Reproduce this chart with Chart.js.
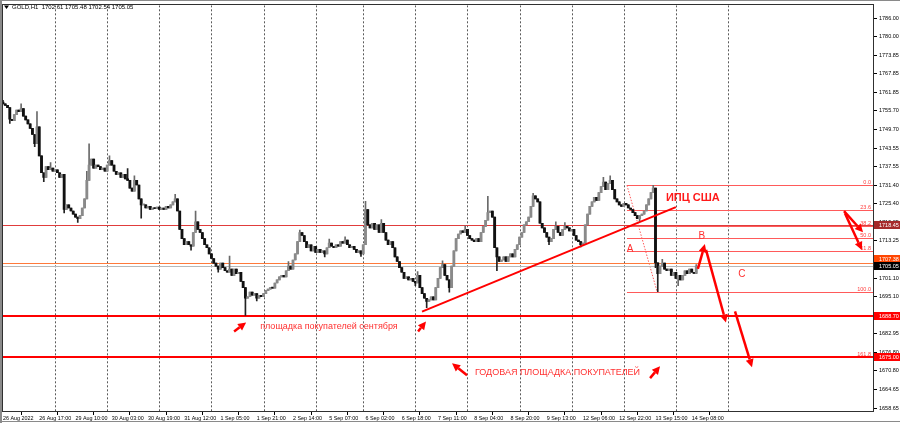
<!DOCTYPE html>
<html>
<head>
<meta charset="utf-8">
<script src="https://cdn.jsdelivr.net/npm/chart.js@4.4.0/dist/chart.umd.min.js"></script>
<style>
html, body { margin: 0; padding: 0; background: #fff; }
#wrap { width: 900px; height: 423px; position: relative; }
</style>
</head>
<body>
<div id="wrap"><canvas id="chart" width="900" height="423"></canvas></div>
<script>
// GOLD H1, 26 Aug 2022 01:00 .. 14 Sep 2022, closes
const closes = [
    1758.0, 1757.5, 1756.8, 1753.0, 1752.5, 1754.5, 1756.0, 1755.5, 1756.5, 1754.0,
    1752.8, 1751.5, 1750.0, 1748.0, 1745.0, 1750.5, 1741.0, 1735.5, 1734.0, 1737.5,
    1736.5, 1737.0, 1736.0, 1736.5, 1735.5, 1734.0, 1735.0, 1723.5, 1725.0, 1724.0,
    1723.0, 1722.0, 1721.0, 1720.5, 1721.5, 1724.0, 1727.0, 1733.0, 1738.0, 1740.0,
    1737.0, 1738.0, 1737.5, 1736.5, 1737.0, 1736.0, 1738.0, 1739.5, 1738.0, 1736.0,
    1735.0, 1735.5, 1734.0, 1735.0, 1733.5, 1733.0, 1730.5, 1729.5, 1733.0, 1731.5,
    1727.0, 1725.0, 1725.0, 1724.0, 1724.5, 1723.5, 1724.0, 1723.8, 1724.3, 1723.5,
    1724.0, 1723.5, 1724.5, 1724.0, 1725.0, 1726.0, 1727.0, 1723.0, 1717.0, 1714.0,
    1712.0, 1713.0, 1712.0, 1711.5, 1716.0, 1719.5, 1717.0, 1716.0, 1714.0, 1712.0,
    1711.0, 1709.0, 1707.5, 1706.0, 1705.0, 1704.0, 1706.0, 1704.5, 1703.5, 1703.0,
    1704.0, 1702.0, 1704.0, 1702.5, 1703.0, 1700.0, 1698.0, 1694.5, 1695.0, 1696.5,
    1695.5, 1696.0, 1694.5, 1695.5, 1695.0, 1696.0, 1697.0, 1697.5, 1698.0, 1697.8,
    1699.5, 1700.5, 1701.5, 1702.0, 1701.5, 1703.5, 1705.0, 1704.0, 1707.0, 1709.0,
    1713.0, 1716.0, 1715.0, 1713.0, 1711.0, 1712.0, 1710.0, 1711.5, 1709.5, 1710.5,
    1709.5, 1710.0, 1709.0, 1711.0, 1712.5, 1711.5, 1711.0, 1712.0, 1711.5, 1713.0,
    1712.5, 1713.5, 1712.0, 1711.0, 1711.5, 1710.5, 1709.5, 1710.0, 1709.0, 1712.0,
    1723.5, 1718.5, 1717.5, 1719.0, 1717.0, 1718.5, 1716.0, 1719.0, 1716.0, 1713.5,
    1712.0, 1713.0, 1711.0, 1708.0, 1706.5, 1704.5, 1703.0, 1701.0, 1701.5, 1700.5,
    1701.0, 1700.0, 1699.5, 1702.0, 1698.0, 1696.0, 1694.5, 1693.5, 1694.0, 1695.0,
    1694.0, 1698.0, 1701.0, 1704.5, 1705.5, 1702.0, 1700.5, 1698.0, 1705.0, 1710.0,
    1714.0, 1715.5, 1716.5, 1716.0, 1717.0, 1715.0, 1714.0, 1713.5, 1713.0, 1714.0,
    1713.0, 1716.0, 1718.0, 1720.0, 1722.5, 1723.0, 1721.0, 1711.0, 1708.0, 1706.5,
    1707.0, 1708.0, 1706.5, 1708.0, 1709.0, 1708.0, 1710.5, 1712.0, 1714.5, 1716.0,
    1718.5, 1719.5, 1721.0, 1724.5, 1728.0, 1727.0, 1726.0, 1719.0, 1717.5, 1716.0,
    1714.5, 1713.0, 1714.0, 1717.0, 1718.0, 1716.0, 1715.0, 1717.0, 1718.0, 1717.5,
    1716.5, 1717.0, 1715.0, 1713.5, 1713.0, 1712.0, 1712.5, 1718.5, 1722.0, 1724.5,
    1726.0, 1727.5, 1726.5, 1729.0, 1731.0, 1732.5, 1730.0, 1732.0, 1733.0, 1730.0,
    1727.0, 1726.0, 1725.0, 1724.5, 1725.5, 1725.0, 1724.0, 1723.5, 1722.5, 1721.5,
    1720.5, 1721.5, 1722.0, 1723.0, 1725.0, 1727.0, 1729.0, 1730.5, 1706.1, 1702.5,
    1705.0, 1706.0, 1704.0, 1703.5, 1704.0, 1702.0, 1703.0, 1701.0, 1702.0, 1700.5,
    1702.0, 1703.5, 1702.5, 1704.0, 1703.0, 1702.6, 1705.05
];
const firstOpen = 1758.6;

// wicks that stand out in the picture (bar index -> price)
const highMarks = {
    0: 1759.2, 8: 1758.0, 15: 1755.5, 21: 1738.8, 37: 1736.0, 38: 1745.0, 47: 1741.0,
    55: 1736.9, 58: 1734.5, 76: 1728.5, 85: 1723.0, 100: 1708.3, 126: 1706.5,
    131: 1716.8, 144: 1713.8, 151: 1714.6, 160: 1726.2, 167: 1720.2, 183: 1703.2,
    194: 1706.7, 204: 1718.2, 214: 1727.8, 234: 1728.8, 244: 1719.5, 248: 1719.2,
    265: 1734.0, 268: 1734.5, 287: 1731.42, 291: 1707.2, 306: 1705.48
};
const lowMarks = {
    3: 1751.6, 14: 1744.0, 18: 1732.6, 27: 1722.4, 33: 1719.3, 61: 1720.7,
    83: 1710.2, 95: 1703.0, 107: 1688.9, 112: 1693.6, 142: 1708.0, 158: 1708.2,
    182: 1698.6, 187: 1691.4, 197: 1696.5, 218: 1703.5, 241: 1712.0, 255: 1711.3,
    281: 1719.7, 288: 1704.5, 289: 1696.66, 298: 1698.6, 306: 1702.54
};

const tickStep = 16;
const tickLabels = [
    '26 Aug 2022', '26 Aug 17:00', '29 Aug 10:00', '30 Aug 03:00', '30 Aug 19:00',
    '31 Aug 12:00', '1 Sep 05:00', '1 Sep 21:00', '2 Sep 14:00', '5 Sep 07:00',
    '6 Sep 02:00', '6 Sep 18:00', '7 Sep 11:00', '8 Sep 04:00', '8 Sep 20:00',
    '9 Sep 13:00', '12 Sep 06:00', '12 Sep 22:00', '13 Sep 15:00', '14 Sep 08:00'
];
const dayStarts = [23, 46, 69, 92, 115, 138, 159, 182, 205, 228, 251, 274, 297, 320];
const slotCount = 385;

const priceTicks = [
    1786.00, 1780.00, 1773.85, 1767.85, 1761.85, 1755.70, 1749.70, 1743.55, 1737.55,
    1731.40, 1725.40, 1719.25, 1713.25, 1707.10, 1701.10, 1695.10, 1688.95, 1682.95,
    1676.80, 1670.80, 1664.65, 1658.65
];
const priceMin = 1657.67;
const priceMax = 1790.22;

const fibHigh = 1731.42;
const fibLow = 1696.66;
const fibLevels = [0, 23.6, 38.2, 50, 61.8, 100, 161.8];
const fibStart = 275.4;
const fibEnd = 288.7;

const levelPrices = [1718.45, 1706.0, 1705.05, 1688.70, 1675.17];
const levelColors = ['#e03c3c', '#ff7a3c', '#b8b8b8', '#ff0000', '#ff0000'];
const levelWidths = [1, 1, 1, 2, 2];
const badgeColors = ['#a52a2a', '#ff4500', '#000000', '#ff0000', '#ff0000'];
const badgeTexts = ['1718.45', '1707.38', '1705.05', '1688.70', '1675.00'];
const badgePrices = [1718.45, 1707.2, 1705.05, 1688.70, 1675.17];

const trendLine = [[184.95, 1690.16], [297.0, 1724.27]];
const arrows = [
    [[102.0, 1683.66], [107.3, 1686.58]],
    [[183.2, 1683.66], [186.7, 1686.9]],
    [[204.8, 1669.36], [198.2, 1673.26]],
    [[285.6, 1668.4], [290.0, 1672.3]],
    [[306.7, 1704.1], [309.8, 1712.2]],
    [[310.3, 1710.3], [319.1, 1686.6]],
    [[323.1, 1690.2], [330.6, 1672.0]],
    [[371.2, 1722.97], [379.6, 1716.1]],
    [[371.6, 1722.3], [379.1, 1710.3]]
];
const notes = [
    { text: 'ИПЦ США', at: [292.6, 1727.19], size: 11, bold: true },
    { text: 'A', at: [275.3, 1710.6], size: 10 },
    { text: 'B', at: [307.0, 1714.85], size: 10 },
    { text: 'C', at: [324.5, 1702.2], size: 10 },
    { text: 'площадка покупателей сентября', at: [113.5, 1685.28], size: 9 },
    { text: 'ГОДОВАЯ ПЛОЩАДКА ПОКУПАТЕЛЕЙ', at: [208.3, 1670.34], size: 9 }
];

const FONT = "'Liberation Sans', Arial, sans-serif";
const BULL = '#8a8a8a';
const BEAR = '#111111';

const opens = closes.map((c, i) => (i === 0 ? firstOpen : closes[i - 1]));
const bodies = closes.map((c, i) => [opens[i], c]);
const wicks = closes.map((c, i) => [
    lowMarks[i] !== undefined ? lowMarks[i] : Math.min(opens[i], c),
    highMarks[i] !== undefined ? highMarks[i] : Math.max(opens[i], c)
]);
const barColors = closes.map((c, i) => (c >= opens[i] ? BULL : BEAR));
const wickColors = closes.map((c, i) => (c >= opens[i] ? '#6a6a6a' : '#222222'));
const slots = Array.from({ length: slotCount }, (_, i) => String(i));

function seg(ctx, x1, y1, x2, y2) {
    ctx.beginPath();
    ctx.moveTo(x1, y1);
    ctx.lineTo(x2, y2);
    ctx.stroke();
}

function arrow(ctx, x1, y1, x2, y2) {
    const ang = Math.atan2(y2 - y1, x2 - x1);
    const len = 8, half = 4;
    const bx = x2 - Math.cos(ang) * len, by = y2 - Math.sin(ang) * len;
    seg(ctx, x1, y1, bx, by);
    ctx.beginPath();
    ctx.moveTo(x2, y2);
    ctx.lineTo(bx + Math.sin(ang) * half, by - Math.cos(ang) * half);
    ctx.lineTo(bx - Math.sin(ang) * half, by + Math.cos(ang) * half);
    ctx.closePath();
    ctx.fill();
}

const overlay = {
    id: 'overlay',
    beforeDatasetsDraw(chart) {
        const { ctx, chartArea: a, scales: { x, y } } = chart;
        ctx.save();
        ctx.beginPath();
        ctx.rect(a.left, a.top, a.right - a.left, a.bottom - a.top);
        ctx.clip();
        ctx.strokeStyle = '#5a5a5a';
        ctx.lineWidth = 1;
        ctx.setLineDash([2, 2]);
        dayStarts.forEach(d => {
            const px = Math.round(x.getPixelForValue(d)) + 0.5;
            seg(ctx, px, a.top, px, a.bottom);
        });
        ctx.setLineDash([]);
        // fibonacci grid
        ctx.strokeStyle = '#ff5a5a';
        ctx.lineWidth = 1;
        const fx = x.getPixelForValue(fibStart);
        ctx.font = '5.5px ' + FONT;
        ctx.fillStyle = '#ff4040';
        ctx.textAlign = 'right';
        ctx.textBaseline = 'bottom';
        fibLevels.forEach(l => {
            const p = fibHigh - (fibHigh - fibLow) * l / 100;
            const py = Math.round(y.getPixelForValue(p)) + 0.5;
            seg(ctx, fx, py, a.right, py);
            ctx.fillText(l.toFixed(1), a.right - 2, py - 0.5);
        });
        ctx.setLineDash([1.5, 1.5]);
        seg(ctx, fx, y.getPixelForValue(fibHigh), x.getPixelForValue(fibEnd), y.getPixelForValue(fibLow));
        ctx.setLineDash([]);
        levelPrices.forEach((p, k) => {
            ctx.strokeStyle = levelColors[k];
            ctx.lineWidth = levelWidths[k];
            const py = Math.round(y.getPixelForValue(p)) + (levelWidths[k] === 1 ? 0.5 : 0);
            seg(ctx, a.left, py, a.right, py);
        });
        ctx.restore();
    },
    afterDatasetsDraw(chart) {
        const { ctx, chartArea: a, scales: { x, y } } = chart;
        const px = v => x.getPixelForValue(v);
        const py = v => y.getPixelForValue(v);
        ctx.save();
        ctx.beginPath();
        ctx.rect(a.left, a.top, a.right - a.left, a.bottom - a.top);
        ctx.clip();
        ctx.strokeStyle = '#ff0000';
        ctx.fillStyle = '#ff0000';
        ctx.lineWidth = 2;
        seg(ctx, px(trendLine[0][0]), py(trendLine[0][1]), px(trendLine[1][0]), py(trendLine[1][1]));
        ctx.lineWidth = 2.5;
        arrows.forEach(([s, e]) => arrow(ctx, px(s[0]), py(s[1]), px(e[0]), py(e[1])));
        ctx.textAlign = 'left';
        ctx.textBaseline = 'middle';
        notes.forEach(n => {
            ctx.font = (n.bold ? 'bold ' : '') + n.size + 'px ' + FONT;
            ctx.fillStyle = n.bold ? '#ff1a1a' : '#ff3030';
            ctx.fillText(n.text, px(n.at[0]), py(n.at[1]));
        });
        ctx.restore();
    },
    afterDraw(chart) {
        const { ctx, chartArea: a, scales: { y } } = chart;
        ctx.save();
        ctx.font = '5.5px ' + FONT;
        ctx.textAlign = 'left';
        ctx.textBaseline = 'middle';
        badgePrices.forEach((p, k) => {
            const cy = Math.round(y.getPixelForValue(p));
            ctx.fillStyle = badgeColors[k];
            ctx.fillRect(a.right + 1, cy - 4, 900 - a.right - 1, 8);
            ctx.fillStyle = '#ffffff';
            ctx.fillText(badgeTexts[k], a.right + 6, cy + 0.5);
        });
        ctx.strokeStyle = '#303030';
        ctx.lineWidth = 1;
        ctx.strokeRect(Math.round(a.left) - 0.5, Math.round(a.top) - 0.5,
            Math.round(a.right - a.left) + 1, Math.round(a.bottom - a.top) + 1);
        ctx.strokeStyle = '#8a8a8a';
        ctx.lineWidth = 2;
        seg(ctx, 1, 0, 1, 423);
        ctx.lineWidth = 1;
        seg(ctx, 0, 0.5, 900, 0.5);
        seg(ctx, 0, 421.5, 900, 421.5);
        // header
        ctx.fillStyle = '#000';
        ctx.beginPath();
        ctx.moveTo(4, 5.5); ctx.lineTo(9, 5.5); ctx.lineTo(6.5, 9);
        ctx.closePath();
        ctx.fill();
        ctx.font = '6px ' + FONT;
        ctx.fillText('GOLD,H1  1702.61 1705.48 1702.54 1705.05', 12, 7.5);
        ctx.restore();
    }
};

new Chart(document.getElementById('chart'), {
    type: 'bar',
    data: {
        labels: slots,
        datasets: [
            {
                data: bodies,
                backgroundColor: barColors,
                barThickness: 2.2,
                minBarLength: 1,
                grouped: false,
                borderWidth: 0
            },
            {
                data: wicks,
                backgroundColor: wickColors,
                barThickness: 1,
                grouped: false,
                borderWidth: 0
            }
        ]
    },
    options: {
        responsive: false,
        animation: false,
        events: [],
        layout: { padding: { left: 3, top: 3, right: 0, bottom: 0 } },
        plugins: { legend: { display: false }, tooltip: { enabled: false } },
        scales: {
            x: {
                type: 'category',
                offset: false,
                afterBuildTicks: s => { s.ticks = tickLabels.map((_, k) => ({ value: k * tickStep })); },
                afterFit: s => { s.height = 12; },
                grid: { drawOnChartArea: false, drawTicks: true, tickLength: 4, color: '#000' },
                border: { display: true, color: '#303030' },
                ticks: {
                    autoSkip: false,
                    maxRotation: 0,
                    align: 'start',
                    padding: 0,
                    color: '#000',
                    font: { family: FONT, size: 5.4 },
                    callback: (v, i) => tickLabels[i]
                }
            },
            y: {
                position: 'right',
                min: priceMin,
                max: priceMax,
                afterBuildTicks: s => { s.ticks = priceTicks.map(v => ({ value: v })); },
                afterFit: s => { s.width = 27; },
                grid: { drawOnChartArea: false, drawTicks: true, tickLength: 4, color: '#000' },
                border: { display: true, color: '#303030' },
                ticks: {
                    padding: 2,
                    color: '#000',
                    font: { family: FONT, size: 5.5 },
                    callback: v => Number(v).toFixed(2)
                }
            }
        }
    },
    plugins: [overlay]
});
</script>
</body>
</html>
